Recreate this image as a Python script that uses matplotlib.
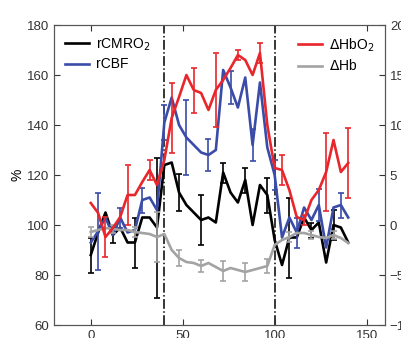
import matplotlib
matplotlib.use('Agg')
from matplotlib import pyplot as plt
import numpy as np

plt.rcParams['font.family'] = ['Liberation Sans', 'DejaVu Sans']

# time (x axis), one sample every 4 units
t = np.arange(0, 144, 4)

# left axis (%)
cmro2 = [88, 97, 105, 96, 99, 93, 93, 103, 103, 99, 124, 125,
         113, 108, 105, 102, 103, 101, 121, 113, 109, 118, 100, 116,
         112, 94, 84, 95, 95, 103, 98, 101, 85, 100, 99, 93]
cmro2_err = [7, 3, 10, 28, 7.5, 10, 4, 5, 7, 16, 3, 6]

cbf = [93, 97.5, 103, 96, 103, 97, 98, 110, 111, 106, 141, 151,
       140, 135, 132, 129, 128, 130, 162, 155, 147, 159, 132, 157,
       131, 120, 95, 103, 97, 107, 102, 108, 91, 107, 108, 103]
cbf_err = [15.5, 4, 5, 7, 15, 6.5, 6.5, 6.5, 6, 6, 6.5, 5]

# right axis
hbo2 = [2.2, 1.2, -1.2, -0.3, 0.8, 3.0, 3.0, 4.3, 5.5, 4.0, 6.5, 10.7,
        12.8, 15.0, 13.5, 13.2, 11.5, 13.5, 14.5, 15.7, 17.0, 16.5, 15.0, 17.2,
        10.0, 5.7, 5.5, 3.5, 0.8, 0.5, 2.5, 3.5, 5.3, 8.5, 5.3, 6.2]
hbo2_err = [2.0, 3.0, 1.0, 3.5, 2.25, 3.7, 0.5, 1.0, 1.5, 0.5, 3.9, 3.5]

hb = [-0.7, -0.5, -0.3, -0.4, -0.5, -0.5, -0.7, -0.8, -0.9, -1.2, -0.9, -2.5,
      -3.3, -3.7, -3.8, -4.1, -3.8, -4.2, -4.6, -4.3, -4.5, -4.7, -4.5, -4.3,
      -4.1, -2.0, -1.5, -1.2, -0.8, -0.8, -1.0, -1.2, -1.3, -1.0, -1.3, -1.8]
hb_err = [0.5, 0.4, 0.5, 2.5, 0.8, 0.6, 1.0, 0.9, 0.7, 0.5, 0.4, 0.4]

red = '#e8262b'
blue = '#3a4ca8'
gray = '#a3a3a3'

fig = plt.figure(figsize=(4.02, 3.38), dpi=100)
ax = fig.add_axes([54 / 402, 13 / 338, 331 / 402, 300 / 338])
ax2 = ax.twinx()


def draw(a, y, err, off, color, label, z):
    y = np.array(y)
    a.plot(t, y, color=color, lw=1.9, label=label, zorder=z)
    a.errorbar(t[off::3], y[off::3], yerr=err, fmt='none', ecolor=color,
               elinewidth=1.2, capsize=2.5, capthick=1.2, zorder=z)


draw(ax, cmro2, cmro2_err, 0, 'black', 'rCMRO$_2$', 3)
draw(ax, cbf, cbf_err, 1, blue, 'rCBF', 4)
draw(ax2, hbo2, hbo2_err, 2, red, '$\\Delta$HbO$_2$', 4)
draw(ax2, hb, hb_err, 0, gray, '$\\Delta$Hb', 3)

for xv in [40, 100]:
    ax.axvline(xv, color='black', ls='-.', lw=1.1, zorder=1)

ax.set_xlim(-20, 160)
ax.set_ylim(60, 180)
ax2.set_ylim(-10, 20)
ax.set_xticks([0, 50, 100, 150])
ax.set_yticks(range(60, 181, 20))
ax2.set_yticks(range(-10, 21, 5))
ax.set_ylabel('%', fontsize=10, labelpad=2)

for a in [ax, ax2]:
    a.tick_params(direction='in', length=4, width=0.8, labelsize=9.5,
                  colors='#333333', top=True)
    for s in a.spines.values():
        s.set_color('#555555')
        s.set_linewidth(0.8)

ax.legend(loc='upper left', frameon=False, fontsize=10, handlelength=1.7,
          handletextpad=0.5, borderaxespad=0.4, labelspacing=0.35)
ax2.legend(loc='upper right', frameon=False, fontsize=10, handlelength=1.7,
           handletextpad=0.5, borderaxespad=0.4, labelspacing=0.35)

plt.savefig('out.png', dpi=100)
